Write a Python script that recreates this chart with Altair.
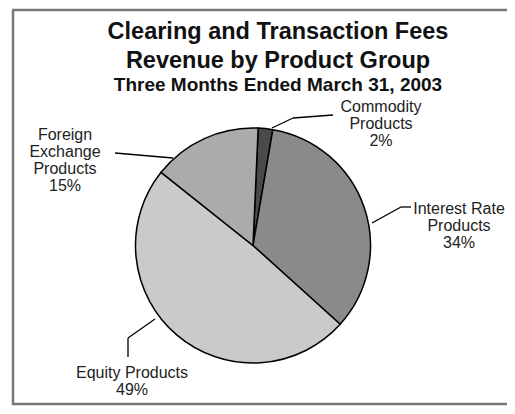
import math
import altair as alt
import pandas as pd

# ---- data ----
categories = ["Commodity Products", "Interest Rate Products", "Equity Products", "Foreign Exchange Products"]
shares = [2, 34, 49, 15]
label_names = [["Commodity", "Products"], ["Interest Rate", "Products"], ["Equity Products"], ["Foreign", "Exchange", "Products"]]
title_lines = ["Clearing and Transaction Fees", "Revenue by Product Group"]
subtitle = "Three Months Ended March 31, 2003"

# ---- styles / layout ----
slice_colors = ["#4a4a4a", "#8a8a8a", "#cacaca", "#ababab"]
W, H = 499, 398
cx, cy, R = 245, 237.5, 117.5
start = 0.044
font = "Liberation Sans"
label_pos = [(373, 99), (451, 201), (124, 365), (57, 127)]  # first-line centre
line_h = 17
leaders = [
    [(264, 120), (285, 110), (325, 107)],
    [(364, 215), (393, 199), (403, 199)],
    [(147, 311), (120, 330), (120, 349)],
    [(107, 145), (165, 150)],
]

pie_df = pd.DataFrame({"cat": categories, "share": shares, "idx": list(range(len(categories)))})

pie = alt.Chart(pie_df).mark_arc(stroke="black", strokeWidth=1.5, radius=R).encode(
    theta=alt.Theta("share:Q", stack=True, scale=alt.Scale(range=[start, start + 2 * math.pi])),
    color=alt.Color("cat:N", scale=alt.Scale(domain=categories, range=slice_colors), legend=None),
    order=alt.Order("idx:Q"),
    x=alt.value(cx),
    y=alt.value(cy),
)

rows = []
for names, v, (lx, ly) in zip(label_names, shares, label_pos):
    lines = names + [f"{v}%"]
    for i, t in enumerate(lines):
        rows.append({"t": t, "x": lx, "y": ly + i * line_h})
lab_df = pd.DataFrame(rows)
labels = alt.Chart(lab_df).mark_text(font=font, fontSize=16, color="#222", baseline="middle", align="center").encode(
    x=alt.X("x:Q", scale=None), y=alt.Y("y:Q", scale=None), text="t:N"
)

seg = []
for pts in leaders:
    for (a, b) in zip(pts[:-1], pts[1:]):
        seg.append({"x": a[0], "y": a[1], "x2": b[0], "y2": b[1]})
seg_df = pd.DataFrame(seg)
lead = alt.Chart(seg_df).mark_rule(color="black", strokeWidth=1.3).encode(
    x=alt.X("x:Q", scale=None), y=alt.Y("y:Q", scale=None),
    x2="x2:Q", y2="y2:Q",
)

t_df = pd.DataFrame({"t": title_lines + [subtitle], "y": [30.5, 60, 83], "s": [23.5, 23.5, 19]})
titles = alt.Chart(t_df).mark_text(font=font, fontWeight="bold", color="#111", baseline="alphabetic", align="center").encode(
    x=alt.value(270), y=alt.Y("y:Q", scale=None), text="t:N",
    size=alt.Size("s:Q", scale=None, legend=None),
)

frame_df = pd.DataFrame({
    "x": [5, 4, 4], "y": [2, 2, 396], "x2": [5, 499, 499], "y2": [397, 2, 396]
})
frame = alt.Chart(frame_df).mark_rule(color="#777777", strokeWidth=2.5).encode(
    x=alt.X("x:Q", scale=None), y=alt.Y("y:Q", scale=None), x2="x2:Q", y2="y2:Q"
)

chart = alt.layer(frame, pie, lead, labels, titles).properties(
    width=W, height=H, autosize=alt.AutoSizeParams(type="none"), padding=0
).configure_view(stroke=None)

chart.save("out.html", embed_options={"renderer": "svg", "actions": False})
